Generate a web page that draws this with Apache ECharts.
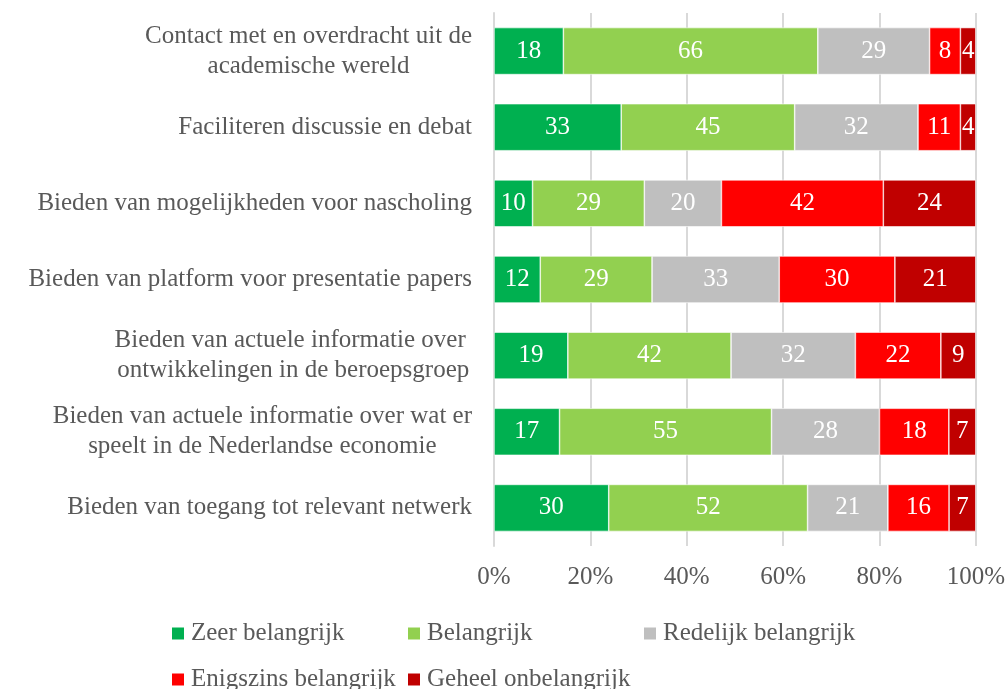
<!DOCTYPE html>
<html>
<head>
<meta charset="utf-8">
<script src="https://cdn.jsdelivr.net/npm/echarts@6/dist/echarts.min.js"></script>
<style>html,body{margin:0;padding:0;background:#fff}#c{width:1008px;height:689px}</style>
</head>
<body>
<div id="c"></div>
<script>
const categories = [
  "Contact met en overdracht uit de\nacademische wereld",
  "Faciliteren discussie en debat",
  "Bieden van mogelijkheden voor nascholing",
  "Bieden van platform voor presentatie papers",
  "Bieden van actuele informatie over \nontwikkelingen in de beroepsgroep",
  "Bieden van actuele informatie over wat er\nspeelt in de Nederlandse economie",
  "Bieden van toegang tot relevant netwerk"
];
const seriesNames = ["Zeer belangrijk", "Belangrijk", "Redelijk belangrijk", "Enigszins belangrijk", "Geheel onbelangrijk"];
const zeerBelangrijk = [18, 33, 10, 12, 19, 17, 30];
const belangrijk = [66, 45, 29, 29, 42, 55, 52];
const redelijkBelangrijk = [29, 32, 20, 33, 32, 28, 21];
const enigszinsBelangrijk = [8, 11, 42, 30, 22, 18, 16];
const geheelOnbelangrijk = [4, 4, 24, 21, 9, 7, 7];
const tickLabels = ["0%", "20%", "40%", "60%", "80%", "100%"];
const colors = ["#00B050", "#92D050", "#BFBFBF", "#FF0000", "#C00000"];

const allSeries = [zeerBelangrijk, belangrijk, redelijkBelangrijk, enigszinsBelangrijk, geheelOnbelangrijk];
const totals = categories.map((_, i) => allSeries.reduce((s, arr) => s + arr[i], 0));
const FONT = "Liberation Serif";
const TXT = "#595959";
const FS = 25;

const chart = echarts.init(document.getElementById('c'), null, {renderer: 'canvas'});
const legendPos = [
  {left: 170, top: 621}, {left: 406, top: 621}, {left: 642, top: 621},
  {left: 170, top: 667}, {left: 406, top: 667}
];
chart.setOption({
  animation: false,
  color: colors,
  grid: {left: 494, top: 13, width: 484, height: 533, containLabel: false},
  legend: seriesNames.map((n, i) => ({
    data: [n], left: legendPos[i].left, top: legendPos[i].top,
    itemWidth: 14, itemHeight: 14, itemGap: 0, icon: 'rect', padding: 0,
    textStyle: {fontFamily: FONT, fontSize: FS, color: TXT, padding: [0, 0, 0, 1]}
  })),
  xAxis: {
    type: 'value', min: 0, max: 100, interval: 20,
    axisLine: {show: false},
    axisTick: {show: false},
    splitLine: {show: true, lineStyle: {color: '#D9D9D9', width: 2}},
    axisLabel: {
      margin: 19, fontFamily: FONT, fontSize: FS, color: TXT,
      formatter: v => tickLabels[Math.round(v / 20)]
    }
  },
  yAxis: {
    type: 'category', data: categories, inverse: true,
    axisLine: {show: true, lineStyle: {color: '#D9D9D9', width: 2}},
    axisTick: {show: false},
    axisLabel: {
      margin: 22, fontFamily: FONT, fontSize: FS, color: TXT, lineHeight: 30,
      formatter: v => v.split('\n').map(l => '{c|' + l + '}').join('\n'),
      rich: {c: {align: 'center', fontFamily: FONT, fontSize: FS, color: TXT, lineHeight: 30}}
    }
  },
  series: allSeries.map((arr, si) => ({
    name: seriesNames[si], type: 'bar', stack: 'total', barWidth: 47,
    data: arr.map((v, i) => ({value: v / totals[i] * 100, raw: v})),
    itemStyle: {color: colors[si], borderColor: '#FFFFFF', borderWidth: 0.6},
    label: {
      show: true, position: 'inside', color: '#FFFFFF', fontFamily: FONT, fontSize: FS,
      formatter: p => String(arr[p.dataIndex])
    }
  }))
});
</script>
</body>
</html>
